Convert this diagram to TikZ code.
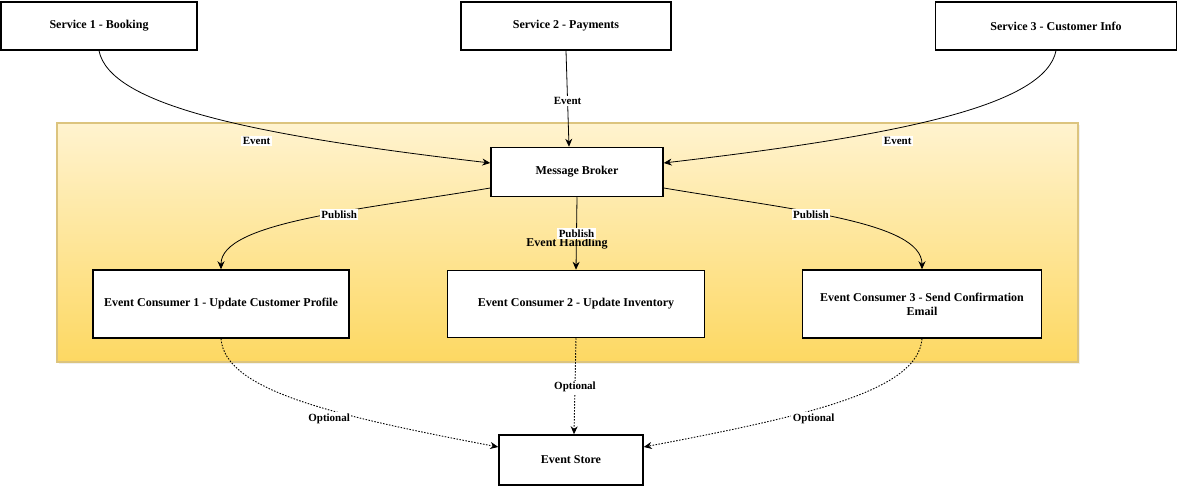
\documentclass[tikz,border=0pt]{standalone}
\usepackage{fontspec}
\setmainfont{Liberation Serif}
\usetikzlibrary{arrows.meta,shadows}
\definecolor{grpTop}{HTML}{FFF3CF}
\definecolor{grpBot}{HTML}{FDD862}
\definecolor{grpLine}{HTML}{DCC47E}

\begin{document}
\begin{tikzpicture}[x=1pt,y=-1pt,
    box/.style={draw=black,line width=1.5pt,fill=white,align=center,inner sep=2pt,
      font=\fontsize{12}{14}\selectfont\bfseries},
    lbl/.style={fill=white,inner sep=1.5pt,font=\fontsize{11}{12}\selectfont\bfseries},
    flow/.style={line width=.8pt,-{Stealth[length=8pt,width=7pt]}},
    opt/.style={flow,line width=.9pt,dash pattern=on 1.5pt off 1.5pt}]
  \useasboundingbox (0,0) rectangle (1178,486);
  % event handling group
  \path[draw=grpLine,line width=1.5pt,top color=grpTop,bottom color=grpBot,
    drop shadow={opacity=.12}] (57,123) rectangle (1078,362);
  \node[font=\fontsize{12}{14}\selectfont\bfseries] (grp) at (567,244) {Event Handling};
  % services
  \node[box,minimum width=196pt,minimum height=48pt] (s1) at (99,26) {Service 1 - Booking};
  \node[box,minimum width=210pt,minimum height=48pt] (s2) at (566,26) {Service 2 - Payments};
  \node[box,minimum width=241pt,minimum height=48pt] (s3) at (1056,26) {Service 3 - Customer Info};
  \node[box,minimum width=172pt,minimum height=49pt] (mb) at (577,172) {Message Broker};
  % consumers
  \node[box,minimum width=256pt,minimum height=68pt] (c1) at (221,304) {Event Consumer 1 - Update Customer Profile};
  \node[box,minimum width=257pt,minimum height=67pt] (c2) at (576,304) {Event Consumer 2 - Update Inventory};
  \node[box,minimum width=239pt,minimum height=68pt] (c3) at (922,304) {Event Consumer 3 - Send Confirmation\\Email};
  \node[box,minimum width=144pt,minimum height=50pt] (es) at (571,460) {Event Store};
  % events in
  \draw[flow] (s1.south) .. controls (110,105) and (250,135) .. ([yshift=9pt]mb.west)
    node[lbl,pos=.61,yshift=-13pt] {Event};
  \draw[flow] (s2.south) -- ([xshift=-8pt]mb.north) node[lbl,pos=.52] {Event};
  \draw[flow] (s3.south) .. controls (1045,105) and (904,135) .. ([yshift=9pt]mb.east)
    node[lbl,pos=.61,yshift=-13pt] {Event};
  % publish
  \draw[flow] ([yshift=-16pt]mb.west) .. controls (360,210) and (221,222) .. (c1.north)
    node[lbl,pos=.4,yshift=-2pt] {Publish};
  \draw[flow] (mb.south) -- (c2.north) node[lbl,pos=.5] {Publish};
  \draw[flow] ([yshift=-16pt]mb.east) .. controls (794,210) and (922,222) .. (c3.north)
    node[lbl,pos=.4,yshift=-2pt] {Publish};
  % optional store
  \draw[opt] (c1.south) .. controls (225,390) and (330,415) .. ([yshift=13pt]es.west)
    node[lbl,pos=.6,yshift=-9pt] {Optional};
  \draw[opt] (c2.south) -- ([xshift=3pt]es.north) node[lbl,pos=.51] {Optional};
  \draw[opt] (c3.south) .. controls (918,390) and (813,415) .. ([yshift=13pt]es.east)
    node[lbl,pos=.6,yshift=-9pt] {Optional};
\end{tikzpicture}
\end{document}
